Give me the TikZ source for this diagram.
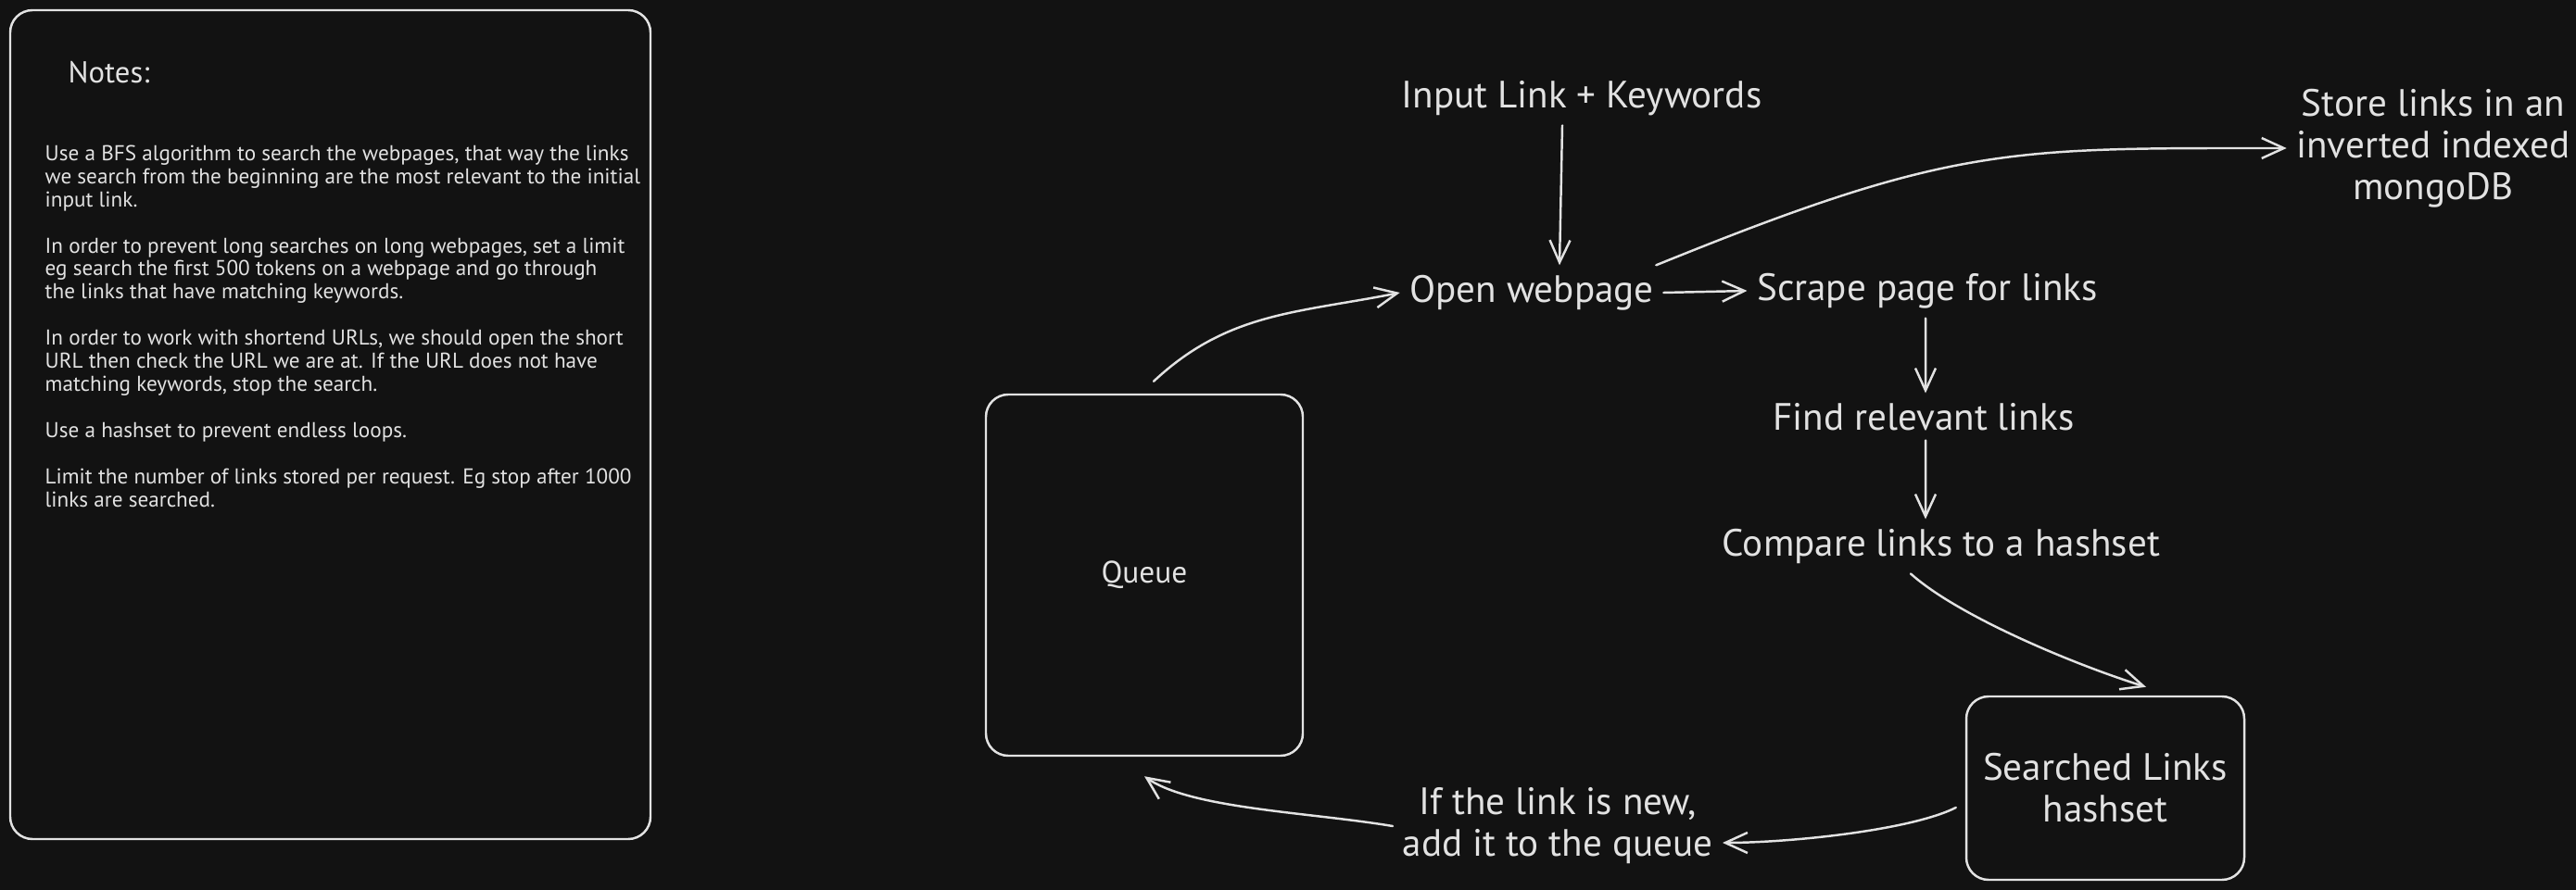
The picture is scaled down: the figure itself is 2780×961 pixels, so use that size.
\documentclass[tikz,border=0pt]{standalone}
\usepackage{fontspec}
\setmainfont{PT Sans}
\usetikzlibrary{positioning,arrows.meta}

\definecolor{canvas}{RGB}{18,18,18}
\definecolor{chalk}{RGB}{226,226,226}

\begin{document}
\begin{tikzpicture}[
  x=0.1mm, y=-0.1mm,
  >={Straight Barb[length=2.4mm,width=2.2mm]},
  every node/.style={text=chalk},
  stage/.style={font=\fontsize{11.7}{12.8}\selectfont,align=center,inner sep=1mm},
  panel/.style={draw=chalk,rounded corners=2.4mm,line width=0.7pt},
  flow/.style={->,draw=chalk,line width=0.7pt,line cap=round}
]
  \useasboundingbox (0,0) rectangle (2780,961);
  \fill[canvas] (0,0) rectangle (2780,961);

  % notes panel
  \node[panel,minimum width=69.1mm,minimum height=89.5mm] (notes) at (356.5,458.5) {};
  \node[anchor=west,inner sep=0,font=\fontsize{9.3}{11}\selectfont] (notestitle) at (73,78) {Notes:};
  \node[anchor=north west,inner sep=0,align=left,font=\fontsize{6.6}{7.1}\selectfont] (notestext) at (48,156)
    {Use a BFS algorithm to search the webpages, that way the links\\
     we search from the beginning are the most relevant to the initial\\
     input link.\\[7.1pt]
     In order to prevent long searches on long webpages, set a limit\\
     eg search the first 500 tokens on a webpage and go through\\
     the links that have matching keywords.\\[7.1pt]
     In order to work with shortend URLs, we should open the short\\
     URL then check the URL we are at. If the URL does not have\\
     matching keywords, stop the search.\\[7.1pt]
     Use a hashset to prevent endless loops.\\[7.1pt]
     Limit the number of links stored per request. Eg stop after 1000\\
     links are searched.};

  % flow
  \node[stage] (input) at (1707,106) {Input Link + Keywords};
  \node[stage] (open) at (1653,316) {Open webpage};
  \node[stage] (scrape) at (2080,314) {Scrape page for links};
  \node[stage] (find) at (2076,450) {Find relevant links};
  \node[stage] (compare) at (2095,590) {Compare links to a hashset};
  \node[stage] (store) at (2626,160) {Store links in an\\inverted indexed\\mongoDB};
  \node[stage] (ifnew) at (1681,892) {If the link is new,\\add it to the queue};
  \node[panel,minimum width=34.2mm,minimum height=39mm,font=\fontsize{9.5}{11}\selectfont] (queue) at (1235,621) {Queue};
  \node[panel,stage,minimum width=30mm,minimum height=19.8mm] (searched) at (2272,851) {Searched Links\\hashset};

  \draw[flow] ([xshift=-2.1mm]input.south) -- ([xshift=3mm]open.north);
  \draw[flow] (open.east) -- (scrape.west);
  \draw[flow] ([xshift=-0.2mm]scrape.south) -- ([xshift=0.2mm]find.north);
  \draw[flow] ([xshift=0.2mm]find.south) -- ([xshift=-1.7mm]compare.north);
  \draw[flow] ([xshift=1mm,yshift=1.3mm]queue.north) .. controls +(80,-75) and +(-110,22) .. (open.west);
  \draw[flow] ([xshift=-0.8mm]open.north east) .. controls +(320,-130) and +(-300,0) .. (store.west);
  \draw[flow] ([xshift=-3.3mm]compare.south) .. controls +(50,45) and +(-80,-25) .. ([xshift=4.4mm,yshift=0.9mm]searched.north);
  \draw[flow] ([xshift=-1mm,yshift=-2.1mm]searched.west) .. controls +(-50,25) and +(70,0) .. ([yshift=-1.8mm]ifnew.east);
  \draw[flow] (ifnew.west) .. controls +(-90,-15) and +(50,35) .. ([yshift=-2.1mm]queue.south);
\end{tikzpicture}
\end{document}
